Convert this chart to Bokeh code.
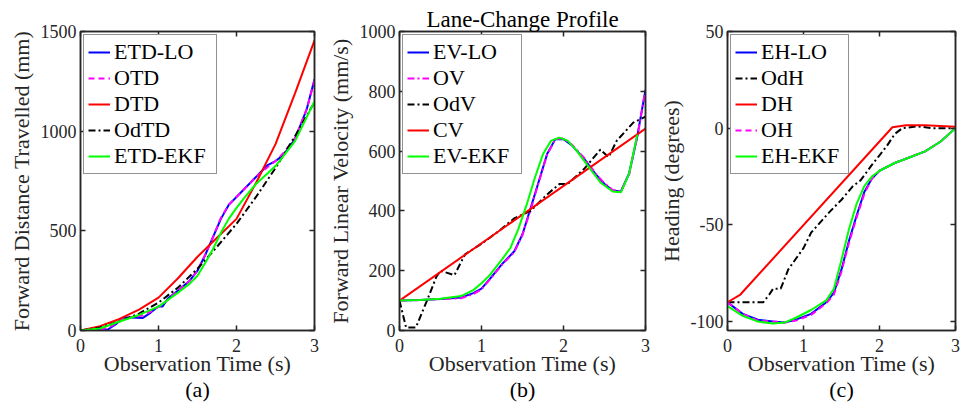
from bokeh.plotting import figure
from bokeh.layouts import row
from bokeh.models import LinearAxis, Range1d, Legend, LegendItem, Title
from bokeh.embed import file_html
from bokeh.resources import INLINE

# ---------------- data ----------------
x_ticks = [0, 1, 2, 3]

# (a) forward distance travelled (mm)
t_a = [0, 0.25, 0.5, 0.75, 1.0, 1.25, 1.5, 1.75, 2.0, 2.25, 2.5, 2.75, 3.0]
dtd = [0, 22, 58, 105, 165, 262, 370, 465, 560, 740, 935, 1190, 1455]
odtd = [0, 15, 45, 85, 140, 215, 310, 420, 535, 670, 815, 975, 1145]
t_a_lo = [0, 0.2, 0.35, 0.45, 0.55, 0.65, 0.8, 0.9, 1.0, 1.05, 1.12, 1.25, 1.4, 1.5,
          1.6, 1.7, 1.8, 1.9, 2.0, 2.1, 2.25, 2.4, 2.5, 2.6, 2.75, 2.9, 3.0]
etd_lo = [0, 2, 5, 30, 65, 65, 63, 90, 122, 120, 160, 200, 250, 300,
          380, 470, 560, 630, 670, 710, 770, 830, 850, 880, 960, 1110, 1260]
otd = [0, 3, 12, 35, 60, 68, 75, 95, 118, 128, 155, 200, 250, 300,
       380, 470, 565, 630, 670, 710, 770, 820, 850, 890, 965, 1110, 1255]
t_a_ekf = [0, 0.25, 0.5, 0.75, 1.0, 1.25, 1.4, 1.5, 1.6, 1.7, 1.8, 1.9, 2.0, 2.1,
           2.25, 2.5, 2.75, 3.0]
etd_ekf = [0, 10, 45, 78, 120, 190, 235, 275, 340, 410, 490, 560, 615, 665,
           735, 825, 950, 1150]

# (b) forward linear velocity (mm/s)
t_b_cv = [0, 3]
cv = [100, 675]
t_b_od = [0, 0.08, 0.2, 0.35, 0.45, 0.5, 0.67, 0.8, 1.0, 1.2, 1.4, 1.6, 1.8, 1.95,
          2.05, 2.25, 2.45, 2.55, 2.65, 2.85, 3.0]
odv = [100, 10, 10, 110, 180, 200, 185, 255, 290, 330, 375, 400, 455, 490,
       490, 540, 605, 580, 635, 695, 715]
t_b_lo = [0, 0.25, 0.5, 0.75, 0.9, 1.0, 1.1, 1.25, 1.4, 1.5, 1.6, 1.7, 1.8, 1.9,
          2.0, 2.1, 2.25, 2.4, 2.5, 2.6, 2.7, 2.8, 2.9, 3.0]
ev_lo = [100, 102, 105, 110, 125, 140, 172, 222, 265, 322, 410, 500, 590, 640,
         640, 620, 575, 520, 490, 468, 465, 525, 650, 805]
ov = [100, 102, 105, 108, 122, 138, 170, 220, 262, 320, 405, 498, 588, 640,
      642, 622, 578, 522, 492, 470, 466, 522, 648, 805]
t_b_ekf = [0, 0.25, 0.5, 0.75, 0.9, 1.0, 1.1, 1.25, 1.35, 1.45, 1.55, 1.65, 1.75,
           1.85, 1.95, 2.05, 2.15, 2.3, 2.45, 2.6, 2.7, 2.8, 2.9]
ev_ekf = [100, 102, 106, 115, 135, 158, 185, 238, 275, 340, 420, 510, 590,
          635, 645, 635, 605, 550, 495, 465, 462, 525, 655]

# (c) heading (degrees)
t_c_dh = [0, 0.17, 2.17, 2.35, 2.6, 3.0]
dh = [-90, -86, 0.5, 1.5, 1.5, 0.8]
t_c_od = [0, 0.47, 0.55, 0.6, 0.7, 0.8, 1.0, 1.1, 1.35, 1.5, 1.65, 1.75, 1.9, 2.0,
          2.1, 2.2, 2.3, 2.5, 2.7, 3.0]
odh = [-90, -90, -86, -83, -83, -73, -62, -54, -43, -37, -30, -27, -19, -14,
       -9, -3, 0, 1, 0, 0]
t_c = [0, 0.2, 0.4, 0.6, 0.75, 0.9, 1.1, 1.3, 1.4, 1.5, 1.6, 1.7, 1.8, 1.9, 2.0,
       2.2, 2.4, 2.6, 2.8, 3.0]
eh_lo = [-90, -96, -99, -100, -100.5, -99, -96, -90, -85, -73, -58, -45, -33, -26, -22,
         -18, -15, -12, -7, 0]
oh = [-90, -96, -99.5, -100, -100.5, -99.5, -96.5, -90.5, -86, -74, -59, -46, -34, -26, -22,
      -18, -15, -12, -7, 0]
eh_ekf = [-92, -97, -100, -101, -100.5, -98, -94, -89, -83, -68, -52, -39, -30, -25, -22,
          -18, -15, -12, -7, 0]
c_ticks = [-100, -50, 0, 50]
c_tick_labels = ["-100", "-50", "0", "50"]

# ---------------- styling helpers ----------------
FONT = "Liberation Serif"
AXC = "#262626"
BLUE, MAG, RED, BLK, GRN = "#0000ff", "#ff00ff", "#ff0000", "#000000", "#00ff00"
DASH = "6 4"
DASHDOT = "7 3 2 3"


def style_axis(ax, show_labels=True):
    ax.major_tick_in = 5
    ax.major_tick_out = 0
    ax.minor_tick_line_color = None
    ax.axis_line_color = AXC
    ax.axis_line_width = 1.5
    ax.major_tick_line_color = AXC
    ax.major_tick_line_width = 1.5
    ax.major_label_text_font = FONT
    ax.major_label_text_font_style = "normal"
    ax.major_label_text_color = AXC
    ax.axis_label_text_font = FONT
    ax.axis_label_text_font_style = "normal"
    ax.axis_label_text_font_size = "22px"
    ax.axis_label_text_line_height = 1.0
    ax.axis_label_text_color = AXC
    if show_labels:
        ax.major_label_text_font_size = "18px"
        ax.major_label_standoff = 4
    else:
        ax.major_label_text_font_size = "1px"
        ax.major_label_standoff = 0


def make_fig(width, left, right, yr, yticks, ylabel, sub, title=None):
    p = figure(width=width, height=406, x_range=Range1d(0, 3), y_range=Range1d(*yr),
               output_backend="svg", toolbar_location=None,
               min_border_left=left, min_border_right=right,
               min_border_top=31, min_border_bottom=76)
    if title:
        p.title.text = title
        p.title.align = "center"
        p.title.text_font = FONT
        p.title.text_font_size = "23px"
        p.title.text_font_style = "normal"
        p.title.text_color = "black"
        p.title.standoff = 0
    p.grid.visible = False
    p.outline_line_color = AXC
    p.outline_line_width = 1.5
    p.background_fill_color = "white"
    p.border_fill_color = "white"
    p.xaxis.ticker = x_ticks
    p.yaxis.ticker = yticks
    p.xaxis.axis_label = "Observation Time (s)"
    p.yaxis.axis_label = ylabel
    for ax in p.xaxis + p.yaxis:
        style_axis(ax)
    p.xaxis.major_label_standoff = 8
    p.xaxis.axis_label_standoff = -4
    p.yaxis.axis_label_standoff = 4
    top = LinearAxis(ticker=x_ticks, major_label_overrides={t: "" for t in x_ticks})
    style_axis(top, False)
    p.add_layout(top, "above")
    rgt = LinearAxis(ticker=yticks, major_label_overrides={t: "" for t in yticks})
    style_axis(rgt, False)
    p.add_layout(rgt, "right")
    p.add_layout(Title(text=sub, align="center", text_font=FONT, text_font_size="22px",
                       text_font_style="normal", text_color="black", standoff=-7,
                       text_line_height=1.0), "below")
    return p


def add_legend(p, items, label_width):
    leg = Legend(items=[LegendItem(label=l, renderers=[r]) for l, r in items],
                 location="top_left")
    leg.label_text_font = FONT
    leg.label_text_font_size = "22px"
    leg.label_text_color = "black"
    leg.glyph_width = 22
    leg.glyph_height = 20
    leg.label_height = 22
    leg.label_width = label_width
    leg.label_standoff = 4
    leg.spacing = 0
    leg.padding = 4
    leg.margin = 3
    leg.border_line_color = AXC
    leg.border_line_width = 1.5
    leg.background_fill_alpha = 1
    p.add_layout(leg)


LW = 2

# (a)
pa = make_fig(324, 80, 10, (0, 1500), [0, 500, 1000, 1500],
              "Forward Distance Travelled (mm)", "(a)")
ra1 = pa.line(t_a_lo, etd_lo, line_color=BLUE, line_width=LW)
ra2 = pa.line(t_a_lo, otd, line_color=MAG, line_width=LW, line_dash=DASH)
ra3 = pa.line(t_a, dtd, line_color=RED, line_width=LW)
ra4 = pa.line(t_a, odtd, line_color=BLK, line_width=LW, line_dash=DASHDOT)
ra5 = pa.line(t_a_ekf, etd_ekf, line_color=GRN, line_width=LW)
add_legend(pa, [("ETD-LO", ra1), ("OTD", ra2), ("DTD", ra3), ("OdTD", ra4), ("ETD-EKF", ra5)], 98)

# (b)
pb = make_fig(331, 75, 10, (0, 1000), [0, 200, 400, 600, 800, 1000],
              "Forward Linear Velocity (mm/s)", "(b)", title="Lane-Change Profile")
rb1 = pb.line(t_b_lo, ev_lo, line_color=BLUE, line_width=LW)
rb2 = pb.line(t_b_lo, ov, line_color=MAG, line_width=LW, line_dash=DASHDOT)
rb3 = pb.line(t_b_od, odv, line_color=BLK, line_width=LW, line_dash=DASHDOT)
rb4 = pb.line(t_b_cv, cv, line_color=RED, line_width=LW)
rb5 = pb.line(t_b_ekf, ev_ekf, line_color=GRN, line_width=LW)
add_legend(pb, [("EV-LO", rb1), ("OV", rb2), ("OdV", rb3), ("CV", rb4), ("EV-EKF", rb5)], 84)

# (c)
pc = make_fig(308, 64, 8, (-104.6, 50), c_ticks, "Heading (degrees)", "(c)")
pc.yaxis[0].major_label_overrides = dict(zip(c_ticks, c_tick_labels))
rc1 = pc.line(t_c, eh_lo, line_color=BLUE, line_width=LW)
rc2 = pc.line(t_c_od, odh, line_color=BLK, line_width=LW, line_dash=DASHDOT)
rc3 = pc.line(t_c_dh, dh, line_color=RED, line_width=LW)
rc4 = pc.line(t_c, oh, line_color=MAG, line_width=LW, line_dash=DASH)
rc5 = pc.line(t_c, eh_ekf, line_color=GRN, line_width=LW)
add_legend(pc, [("EH-LO", rc1), ("OdH", rc2), ("DH", rc3), ("OH", rc4), ("EH-EKF", rc5)], 83)

layout = row(pa, pb, pc, spacing=0)
open("out.html", "w").write(file_html(layout, INLINE))
